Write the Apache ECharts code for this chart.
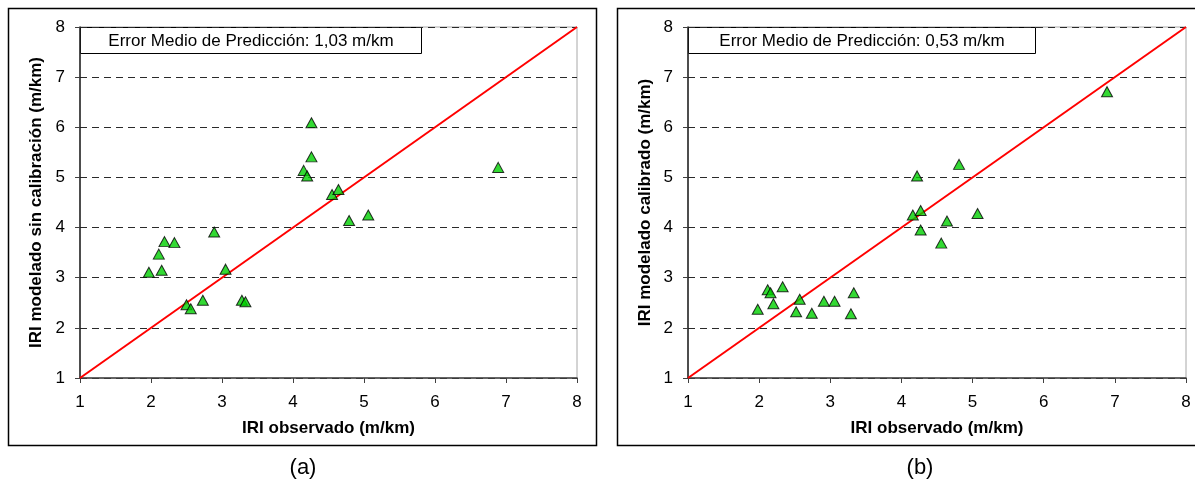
<!DOCTYPE html>
<html>
<head>
<meta charset="utf-8">
<script src="https://cdn.jsdelivr.net/npm/echarts@6/dist/echarts.min.js"></script>
<style>
  html, body { margin: 0; padding: 0; background: #fff; }
  #chart { width: 1195px; height: 482px; }
</style>
</head>
<body>
<div id="chart"></div>
<script>
// IRI observado vs. IRI modelado: (a) sin calibración, (b) calibrado
const axisTicks = [1, 2, 3, 4, 5, 6, 7, 8];

const observedA = [4.26, 4.26, 4.15, 4.20, 4.55, 4.64, 4.79, 2.89, 2.19, 2.33, 2.11,
                   1.97, 2.15, 3.05, 2.50, 2.56, 2.73, 3.28, 3.33, 6.89, 5.06];
const modeledA  = [6.09, 5.41, 5.14, 5.03, 4.66, 4.76, 4.14, 3.91, 3.72, 3.70, 3.47,
                   3.11, 3.15, 3.17, 2.46, 2.38, 2.55, 2.55, 2.52, 5.20, 4.25];

const observedB = [4.81, 4.22, 4.16, 4.27, 4.27, 4.64, 4.56, 2.12, 2.16, 2.33, 1.98,
                   2.20, 2.57, 2.52, 2.74, 2.91, 3.06, 3.33, 3.29, 6.89, 5.07];
const modeledB  = [5.26, 5.03, 4.25, 4.34, 3.95, 4.13, 3.69, 2.76, 2.70, 2.82, 2.37,
                   2.48, 2.57, 2.32, 2.29, 2.53, 2.53, 2.70, 2.28, 6.71, 4.28];

const equalityLine = [[1, 1], [8, 8]];

const panelLabels = ['(a)', '(b)'];
const errorTexts = ['Error Medio de Predicción: 1,03 m/km', 'Error Medio de Predicción: 0,53 m/km'];
const xTitle = 'IRI observado (m/km)';
const yTitles = ['IRI modelado sin calibración (m/km)', 'IRI modelado calibrado (m/km)'];

const FONT = '"Liberation Sans", Arial, sans-serif';
const pair = (xs, ys) => xs.map((x, i) => [x, ys[i]]);

function xAxisFor(gridIndex) {
  return {
    gridIndex, type: 'value', min: axisTicks[0], max: axisTicks[axisTicks.length - 1], interval: 1,
    name: xTitle, nameLocation: 'middle', nameGap: 42,
    nameTextStyle: { fontFamily: FONT, fontSize: 17, fontWeight: 'bold', color: '#000' },
    axisLine: { show: true, onZero: false, lineStyle: { color: '#404040', width: 1.5 } },
    axisTick: { show: true, length: 5, lineStyle: { color: '#404040' } },
    axisLabel: { fontFamily: FONT, fontSize: 17, color: '#000', margin: 16 },
    splitLine: { show: false }
  };
}

function yAxisFor(gridIndex, title, gap) {
  return {
    gridIndex, type: 'value', min: axisTicks[0], max: axisTicks[axisTicks.length - 1], interval: 1,
    name: title, nameLocation: 'middle', nameGap: gap,
    nameTextStyle: { fontFamily: FONT, fontSize: 17, fontWeight: 'bold', color: '#000' },
    axisLine: { show: true, onZero: false, lineStyle: { color: '#202020', width: 1.5 } },
    axisTick: { show: true, length: 5, lineStyle: { color: '#404040' } },
    axisLabel: { fontFamily: FONT, fontSize: 17, color: '#000', margin: 15 },
    splitLine: { show: true, lineStyle: { color: '#2a2a2a', type: [7, 5], width: 1 } }
  };
}

function diagonal(i) {
  return {
    type: 'line', xAxisIndex: i, yAxisIndex: i, data: equalityLine,
    showSymbol: false, symbol: 'none', silent: true,
    lineStyle: { color: '#ff0000', width: 2 }, z: 2
  };
}

function points(i, data) {
  return {
    type: 'scatter', xAxisIndex: i, yAxisIndex: i, data,
    symbol: 'triangle', symbolSize: [11, 10],
    itemStyle: { color: '#00d000', borderColor: '#000', borderWidth: 1 }, z: 3
  };
}

function textBox(x, width, text) {
  return {
    type: 'group', left: x, top: 27, z: 100,
    children: [
      { type: 'rect', shape: { x: 0, y: 0, width, height: 26 },
        style: { fill: '#fff', stroke: '#000', lineWidth: 1 } },
      { type: 'text', x: width / 2, y: 13.5,
        style: { text, fontFamily: FONT, fontSize: 17, fill: '#000', align: 'center', verticalAlign: 'middle' } }
    ]
  };
}

const chart = echarts.init(document.getElementById('chart'), null, { renderer: 'canvas' });
chart.setOption({
  backgroundColor: '#fff',
  animation: false,
  grid: [
    { left: 80, top: 27, width: 497, height: 351, show: true, borderColor: '#a8a8a8', borderWidth: 1 },
    { left: 688, top: 27, width: 498, height: 351, show: true, borderColor: '#a8a8a8', borderWidth: 1 }
  ],
  xAxis: [xAxisFor(0), xAxisFor(1)],
  yAxis: [yAxisFor(0, yTitles[0], 35), yAxisFor(1, yTitles[1], 34)],
  series: [
    diagonal(0), points(0, pair(observedA, modeledA)),
    diagonal(1), points(1, pair(observedB, modeledB))
  ],
  graphic: [
    { type: 'rect', shape: { x: 8.5, y: 8.5, width: 588, height: 437 },
      style: { fill: 'none', stroke: '#000', lineWidth: 1.5 }, z: -1 },
    { type: 'rect', shape: { x: 617.5, y: 8.5, width: 590, height: 437 },
      style: { fill: 'none', stroke: '#000', lineWidth: 1.5 }, z: -1 },
    textBox(80, 341, errorTexts[0]),
    textBox(688, 347, errorTexts[1]),
    { type: 'text', x: 303, y: 468,
      style: { text: panelLabels[0], fontFamily: FONT, fontSize: 22, fill: '#000', align: 'center', verticalAlign: 'middle' } },
    { type: 'text', x: 920, y: 468,
      style: { text: panelLabels[1], fontFamily: FONT, fontSize: 22, fill: '#000', align: 'center', verticalAlign: 'middle' } }
  ]
});
</script>
</body>
</html>
